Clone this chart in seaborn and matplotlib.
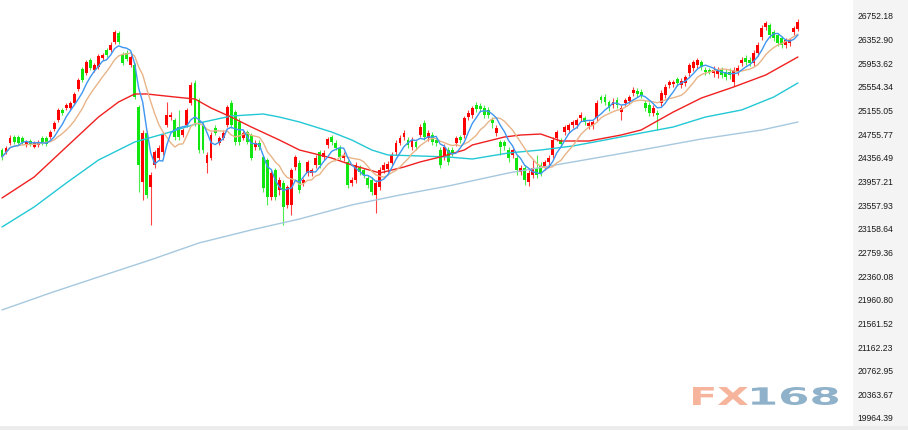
import numpy as np
import pandas as pd
import matplotlib
matplotlib.use("Agg")
import matplotlib.pyplot as plt
import seaborn as sns
from matplotlib.patches import Rectangle, PathPatch
from matplotlib.textpath import TextPath
from matplotlib.font_manager import FontProperties
from matplotlib.transforms import Affine2D, IdentityTransform

# ── daily candles (price units) ──────────────────────────────────────────────
opens = [24489, 24455, 24607, 24709, 24709, 24692, 24574, 24641, 24540, 24574,
         24692, 24692, 24709, 24844, 24996, 25165, 25198, 25198, 25283, 25519,
         25857, 25789, 26009, 25840, 25891, 26043, 26178, 26178, 26313, 26465,
         26093, 26127, 25925, 25925, 25215, 23949, 24776, 23864, 24236, 24354,
         24455, 24911, 25046, 24996, 24878, 24742, 24911, 25283, 25621, 25334,
         24911, 24270, 24354, 24861, 24607, 24692, 24911, 25283, 25131, 24962,
         24692, 24793, 24742, 24540, 24607, 24371, 24320, 23696, 24151, 23814,
         23932, 23561, 23561, 24202, 24270, 23932, 24101, 24101, 24236, 24455,
         24371, 24574, 24709, 24607, 24523, 24354, 24287, 23932, 23983, 24202,
         24151, 24016, 23983, 23729, 23864, 24151, 24168, 24270, 24455, 24607,
         24709, 24658, 24540, 24624, 24742, 24945, 24692, 24742, 24658, 24489,
         24371, 24489, 24489, 24607, 24709, 24742, 25046, 25080, 25249, 25232,
         25198, 25165, 24996, 24776, 24624, 24624, 24489, 24405, 24354, 24118,
         24185, 23949, 24067, 24185, 24236, 24202, 24287, 24405, 24692, 24658,
         24793, 24827, 24911, 24911, 25030, 25030, 24894, 24894, 25030, 25384,
         25384, 25300, 25249, 25334, 25131, 25283, 25317, 25452, 25486, 25469,
         25283, 25249, 25114, 25114, 25283, 25418, 25587, 25604, 25688, 25587,
         25621, 25789, 25874, 25925, 25975, 25840, 25840, 25789, 25773, 25840,
         25806, 25806, 25637, 25806, 25958, 26043, 26009, 25958, 26127, 26397,
         26566, 26600, 26482, 26431, 26380, 26262, 26296, 26482, 26532]
closes = [24371, 24523, 24692, 24624, 24607, 24624, 24624, 24591, 24607, 24624,
          24607, 24591, 24793, 24945, 25165, 25114, 25249, 25283, 25435, 25671,
          25671, 25975, 25874, 25925, 26076, 26093, 26093, 26262, 26482, 26313,
          25958, 26026, 26060, 25384, 24236, 24776, 23729, 24067, 24455, 24523,
          24742, 25080, 25080, 24709, 24709, 24827, 25165, 25587, 24945, 24489,
          24489, 24405, 24742, 24776, 24692, 24776, 25215, 24911, 24624, 24624,
          24776, 24624, 24354, 24607, 24540, 23848, 23696, 24101, 23696, 23983,
          23527, 23864, 24151, 24371, 23814, 23983, 24287, 24151, 24354, 24236,
          24439, 24675, 24624, 24523, 24371, 24405, 23898, 23983, 24236, 24118,
          24067, 23898, 23780, 23932, 24151, 24236, 24253, 24405, 24607, 24692,
          24776, 24574, 24658, 24540, 24878, 24709, 24776, 24624, 24607, 24236,
          24540, 24287, 24439, 24692, 24658, 25030, 25114, 25198, 25182, 25182,
          25080, 25080, 24945, 24861, 24540, 24557, 24354, 24489, 24151, 24185,
          23983, 24101, 24185, 24067, 24101, 24287, 24354, 24658, 24793, 24591,
          24878, 24911, 24962, 24996, 25080, 24962, 24945, 24962, 25283, 25334,
          25300, 25198, 25300, 25249, 25198, 25334, 25384, 25502, 25435, 25418,
          25198, 25114, 25198, 25080, 25452, 25553, 25637, 25637, 25621, 25654,
          25722, 25925, 25975, 26009, 25891, 25806, 25806, 25840, 25823, 25756,
          25722, 25756, 25840, 25874, 26009, 25975, 25958, 26127, 26262, 26549,
          26634, 26431, 26380, 26296, 26262, 26347, 26347, 26549, 26651]
highs = [24523, 24557, 24742, 24742, 24742, 24726, 24658, 24675, 24641, 24658,
         24726, 24726, 24827, 24979, 25198, 25198, 25283, 25317, 25469, 25705,
         25891, 26009, 26043, 25958, 26110, 26127, 26212, 26313, 26515, 26499,
         26144, 26178, 26093, 25958, 25249, 24827, 24810, 24118, 24489, 24574,
         24776, 25300, 25131, 25030, 25165, 24861, 25198, 25637, 25671, 25367,
         24962, 24455, 24793, 24911, 24726, 24827, 25249, 25334, 25165, 25030,
         24827, 24827, 24776, 24658, 24658, 24405, 24354, 24151, 24185, 24033,
         23983, 23898, 24185, 24405, 24320, 24016, 24320, 24185, 24405, 24489,
         24489, 24709, 24742, 24658, 24574, 24455, 24320, 24033, 24287, 24236,
         24185, 24067, 24033, 23983, 24202, 24287, 24303, 24455, 24658, 24742,
         24827, 24709, 24709, 24658, 24928, 24996, 24827, 24793, 24692, 24540,
         24591, 24540, 24540, 24726, 24742, 25063, 25165, 25232, 25300, 25283,
         25249, 25215, 25046, 24911, 24658, 24658, 24540, 24523, 24405, 24236,
         24236, 24151, 24320, 24405, 24287, 24320, 24405, 24709, 24827, 24692,
         24911, 24945, 24996, 25030, 25131, 25063, 24979, 24996, 25334, 25418,
         25435, 25334, 25367, 25384, 25249, 25367, 25418, 25553, 25536, 25519,
         25334, 25300, 25249, 25165, 25502, 25604, 25671, 25671, 25722, 25705,
         25756, 25958, 26009, 26043, 26009, 25891, 25874, 25908, 25891, 25891,
         25857, 25874, 25891, 25925, 26060, 26093, 26060, 26178, 26313, 26600,
         26667, 26634, 26515, 26465, 26414, 26380, 26380, 26583, 26701]
lows = [24320, 24422, 24574, 24591, 24574, 24591, 24540, 24557, 24523, 24540,
        24574, 24557, 24675, 24810, 24962, 25080, 25165, 25165, 25249, 25486,
        25637, 25756, 25840, 25806, 25857, 26009, 26060, 26144, 26279, 26279,
        25925, 25992, 25891, 25350, 23780, 23645, 23679, 23223, 24185, 24320,
        24405, 24878, 24996, 24658, 24658, 24709, 24878, 25249, 24894, 24439,
        24439, 24101, 24320, 24742, 24574, 24658, 24878, 24861, 24574, 24574,
        24658, 24591, 24320, 24489, 24489, 23780, 23561, 23645, 23645, 23729,
        23223, 23510, 23392, 24151, 23763, 23881, 24050, 24050, 24185, 24185,
        24320, 24523, 24574, 24489, 24320, 24303, 23848, 23881, 23932, 24067,
        24016, 23848, 23729, 23425, 23814, 24101, 24118, 24236, 24405, 24574,
        24658, 24523, 24489, 24489, 24709, 24658, 24641, 24574, 24557, 24185,
        24320, 24236, 24388, 24557, 24607, 24692, 24996, 25030, 25131, 25131,
        25030, 25030, 24861, 24726, 24405, 24489, 24287, 24354, 24067, 24067,
        23898, 23881, 24016, 24016, 24050, 24151, 24236, 24354, 24641, 24540,
        24742, 24776, 24861, 24861, 24979, 24911, 24844, 24844, 24979, 25283,
        25249, 25148, 25198, 25198, 24996, 25232, 25266, 25401, 25384, 25367,
        25148, 25063, 25063, 24827, 25232, 25367, 25536, 25553, 25570, 25536,
        25570, 25739, 25823, 25874, 25840, 25756, 25773, 25722, 25705, 25705,
        25671, 25688, 25570, 25756, 25908, 25925, 25908, 25908, 26076, 26347,
        26515, 26380, 26330, 26245, 26212, 26212, 26245, 26431, 26499]

# ── longer moving averages at a few candles ──────────────────────────────────
ma20_idx = [0, 8, 16, 24, 29, 33, 36, 43, 48, 52, 57, 62, 69, 74, 82, 87, 94,
            100, 104, 109, 115, 117, 125, 129, 134, 139, 146, 154, 159, 167,
            174, 182, 190, 198]
ma20_val = [23679, 24033, 24540, 25046, 25300, 25435, 25435, 25384, 25350,
            25198, 25046, 24878, 24658, 24489, 24354, 24236, 24101, 24202,
            24287, 24371, 24489, 24574, 24709, 24742, 24759, 24641, 24641,
            24742, 24827, 25131, 25367, 25553, 25756, 26060]
ma60_idx = [0, 8, 16, 24, 33, 41, 49, 57, 65, 69, 74, 82, 87, 92, 96, 104, 111,
            117, 126, 134, 142, 150, 159, 167, 175, 184, 192, 198]
ma60_val = [23189, 23527, 23932, 24320, 24624, 24776, 24945, 25063, 25097,
            25046, 24962, 24793, 24658, 24489, 24405, 24388, 24371, 24337,
            24439, 24489, 24557, 24658, 24776, 24878, 25046, 25165, 25384,
            25621]
ma120_idx = [0, 12, 24, 37, 49, 62, 74, 87, 99, 111, 126, 142, 159, 174, 189, 198]
ma120_val = [21788, 22075, 22345, 22635, 22919, 23139, 23324, 23561, 23729,
             23881, 24101, 24287, 24489, 24675, 24827, 24962]

tick_vals = [26752.18, 26352.90, 25953.62, 25554.34, 25155.05, 24755.77,
             24356.49, 23957.21, 23557.93, 23158.64, 22759.36, 22360.08,
             21960.80, 21561.52, 21162.23, 20762.95, 20363.67, 19964.39]
tick_labels = [f"{v:.2f}" for v in tick_vals]

UP, DOWN = "#ff0000", "#11e611"

sns.set_style("white")
plt.rcParams["font.family"] = ["Liberation Sans", "DejaVu Sans"]

W, H = 908, 430
fig = plt.figure(figsize=(W / 100, H / 100), dpi=100)
fig.add_artist(Rectangle((853 / W, 0), 55 / W, 1, transform=fig.transFigure,
                         facecolor="#f4f4f4", edgecolor="none", zorder=-5))
ax = fig.add_axes([0, 0, 853 / W, 1])
ax.set_facecolor("white")

n = len(closes)
idx = np.arange(n)
o = np.array(opens, dtype=float)
c = np.array(closes, dtype=float)
hi = np.array(highs, dtype=float)
lo = np.array(lows, dtype=float)
cols = np.where(c >= o, UP, DOWN)

ax.vlines(idx, lo, hi, colors=cols, linewidth=0.8, alpha=0.75, zorder=1)
ax.bar(idx, np.maximum(np.abs(c - o), 20), bottom=np.minimum(o, c),
       width=0.72, color=cols, linewidth=0, zorder=2)

# moving averages
close_s = pd.Series(closes, dtype=float)
frames = [
    pd.DataFrame({"idx": ma120_idx, "value": ma120_val, "line": "MA120"}),
    pd.DataFrame({"idx": ma60_idx, "value": ma60_val, "line": "MA60"}),
    pd.DataFrame({"idx": ma20_idx, "value": ma20_val, "line": "MA20"}),
    pd.DataFrame({"idx": idx, "value": close_s.rolling(10, min_periods=1).mean(),
                  "line": "MA10"}),
    pd.DataFrame({"idx": idx, "value": close_s.rolling(5, min_periods=1).mean(),
                  "line": "MA5"}),
]
ma_df = pd.concat(frames, ignore_index=True)
palette = {"MA120": "#a6c8de", "MA60": "#22c8d4", "MA20": "#f02020",
           "MA10": "#e8b488", "MA5": "#3d96f0"}
sns.lineplot(data=ma_df, x="idx", y="value", hue="line", palette=palette,
             hue_order=list(palette), estimator=None, legend=False,
             linewidth=1.0, ax=ax, zorder=3)

ax.set_xlim(-0.5, 211.7)
ax.set_ylim(19761, 27022)
ax.set_xticks([])
ax.yaxis.tick_right()
ax.set_yticks(tick_vals)
ax.set_yticklabels(tick_labels, fontsize=6.2, color="#1a1a1a")
ax.tick_params(axis="y", length=0, pad=3)
ax.set_xlabel("")
ax.set_ylabel("")
for s in ax.spines.values():
    s.set_visible(False)

# bottom strip
fig.add_artist(Rectangle((0, 0), 1, 4 / H, transform=fig.transFigure,
                         facecolor="#ececec", edgecolor="none", zorder=5))

# FX168 watermark, stretched to its box in pixel coords
fp = FontProperties(family="DejaVu Sans", weight="bold")
def logo(txt, x0, x1, y0, y1, color):
    tp = TextPath((0, 0), txt, size=1, prop=fp)
    ext = tp.get_extents()
    tr = (Affine2D().translate(-ext.x0, -ext.y0)
          .scale((x1 - x0) / ext.width, (y1 - y0) / ext.height)
          .translate(x0, H - y1))
    fig.add_artist(PathPatch(tr.transform_path(tp), facecolor=color,
                             edgecolor="none", transform=IdentityTransform(),
                             zorder=6))

logo("FX", 693, 748, 387, 405, "#f5b49b")
logo("168", 752, 838, 387, 405, "#8fb2ca")

fig.savefig("out.png", dpi=100)
